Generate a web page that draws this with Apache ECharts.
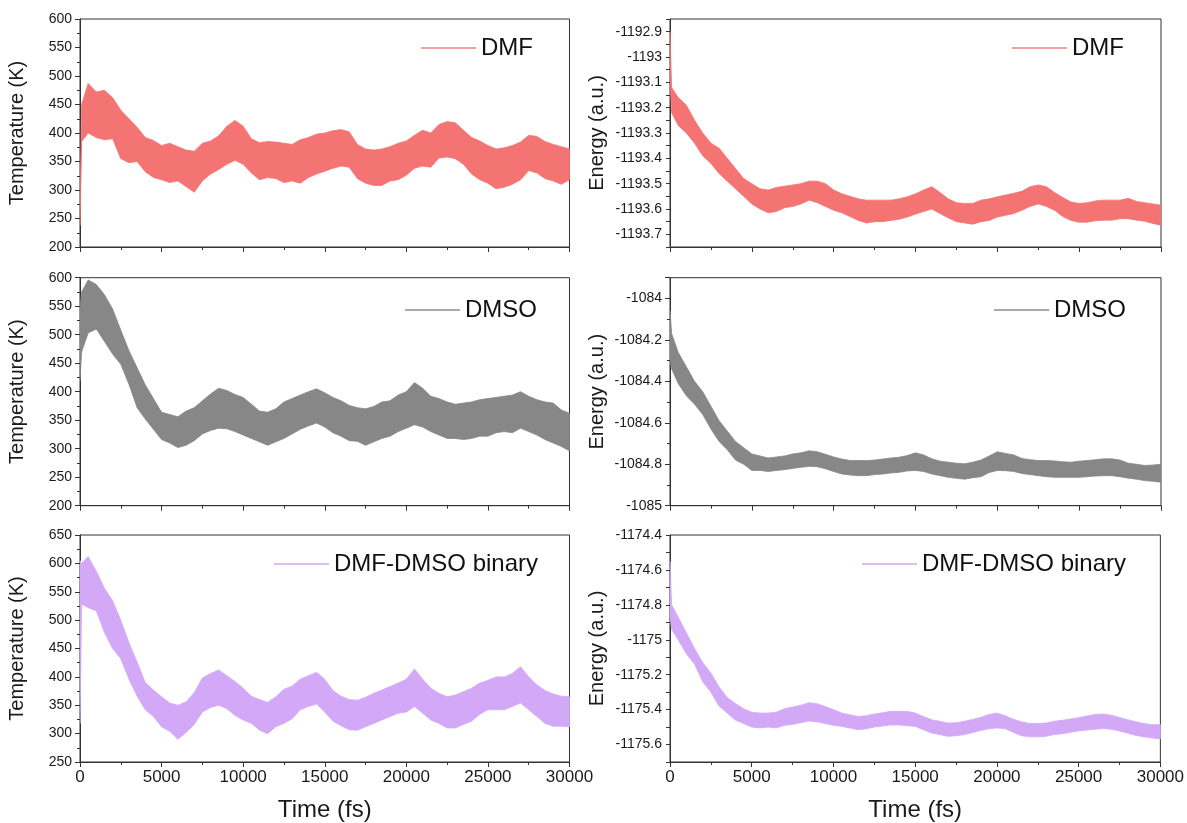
<!DOCTYPE html>
<html><head><meta charset="utf-8">
<script src="https://cdn.jsdelivr.net/npm/echarts@6/dist/echarts.min.js"></script>
<style>html,body{margin:0;padding:0;background:#fff}#c{width:1187px;height:823px}</style>
</head><body><div id="c"></div>
<script>
// time (fs)
const time = [0,100,500,1000,1500,2000,2500,3000,3500,4000,4500,5000,5500,6000,6500,7000,7500,8000,8500,9000,9500,10000,10500,11000,11500,12000,12500,13000,13500,14000,14500,15000,15500,16000,16500,17000,17500,18000,18500,19000,19500,20000,20500,21000,21500,22000,22500,23000,23500,24000,24500,25000,25500,26000,26500,27000,27500,28000,28500,29000,29500,30000];

// DMF temperature envelope (K)
const dmfTempHi = [250,450,487,472,475,462,440,425,410,392,387,378,382,376,370,368,382,386,395,412,422,412,390,383,385,384,382,380,388,392,398,400,404,406,402,380,372,370,372,376,382,386,396,405,400,415,420,418,405,392,386,378,372,374,378,384,396,394,385,380,376,372];
const dmfTempLo = [238,385,400,392,388,390,355,348,350,332,322,318,313,316,306,296,316,328,336,345,352,345,330,318,322,320,313,316,312,322,328,333,338,342,340,320,312,308,308,316,318,326,338,342,340,356,358,355,345,328,318,312,302,305,310,318,334,330,320,316,310,318];
// DMF energy envelope (a.u.)
const dmfEnHi = [-1192.90,-1193.12,-1193.16,-1193.19,-1193.25,-1193.30,-1193.34,-1193.36,-1193.40,-1193.44,-1193.48,-1193.50,-1193.52,-1193.525,-1193.515,-1193.51,-1193.505,-1193.50,-1193.49,-1193.49,-1193.50,-1193.525,-1193.54,-1193.55,-1193.56,-1193.565,-1193.565,-1193.565,-1193.565,-1193.56,-1193.552,-1193.54,-1193.525,-1193.512,-1193.535,-1193.56,-1193.575,-1193.578,-1193.578,-1193.565,-1193.56,-1193.552,-1193.545,-1193.538,-1193.53,-1193.512,-1193.505,-1193.512,-1193.535,-1193.555,-1193.572,-1193.578,-1193.575,-1193.568,-1193.565,-1193.565,-1193.565,-1193.558,-1193.57,-1193.575,-1193.58,-1193.585];
const dmfEnLo = [-1193.10,-1193.22,-1193.27,-1193.30,-1193.34,-1193.39,-1193.42,-1193.46,-1193.49,-1193.52,-1193.55,-1193.58,-1193.60,-1193.615,-1193.61,-1193.595,-1193.59,-1193.58,-1193.565,-1193.575,-1193.59,-1193.605,-1193.615,-1193.63,-1193.645,-1193.655,-1193.65,-1193.65,-1193.645,-1193.64,-1193.632,-1193.62,-1193.61,-1193.60,-1193.618,-1193.635,-1193.65,-1193.655,-1193.66,-1193.65,-1193.645,-1193.632,-1193.625,-1193.618,-1193.605,-1193.59,-1193.58,-1193.59,-1193.605,-1193.63,-1193.645,-1193.652,-1193.652,-1193.646,-1193.644,-1193.644,-1193.638,-1193.638,-1193.644,-1193.648,-1193.657,-1193.664];

// DMSO temperature envelope (K)
const dmsoTempHi = [545,575,596,588,570,545,508,472,442,412,388,364,360,356,366,372,384,396,406,402,395,390,378,366,364,370,382,388,394,400,405,398,390,384,376,372,370,374,382,384,394,400,416,406,392,388,382,378,380,382,386,388,390,392,394,400,392,386,382,380,368,362];
const dmsoTempLo = [420,470,503,510,488,466,448,413,372,352,334,316,310,302,306,314,326,332,336,335,330,324,318,312,306,312,318,326,334,340,345,338,328,322,314,313,306,312,318,322,330,336,342,338,330,324,318,318,316,318,322,322,328,330,328,336,330,324,316,310,304,296];
// DMSO energy envelope (a.u.)
const dmsoEnHi = [-1084.06,-1084.17,-1084.26,-1084.33,-1084.40,-1084.45,-1084.52,-1084.59,-1084.64,-1084.69,-1084.72,-1084.75,-1084.76,-1084.77,-1084.765,-1084.76,-1084.75,-1084.745,-1084.735,-1084.74,-1084.752,-1084.765,-1084.775,-1084.782,-1084.782,-1084.782,-1084.78,-1084.775,-1084.77,-1084.766,-1084.758,-1084.745,-1084.755,-1084.774,-1084.785,-1084.79,-1084.795,-1084.798,-1084.79,-1084.78,-1084.76,-1084.74,-1084.748,-1084.755,-1084.772,-1084.778,-1084.782,-1084.782,-1084.784,-1084.788,-1084.79,-1084.785,-1084.782,-1084.778,-1084.774,-1084.774,-1084.78,-1084.795,-1084.8,-1084.806,-1084.804,-1084.80];
const dmsoEnLo = [-1084.30,-1084.34,-1084.41,-1084.47,-1084.51,-1084.56,-1084.63,-1084.69,-1084.73,-1084.78,-1084.80,-1084.83,-1084.83,-1084.835,-1084.83,-1084.826,-1084.82,-1084.815,-1084.81,-1084.812,-1084.822,-1084.835,-1084.847,-1084.852,-1084.855,-1084.855,-1084.85,-1084.847,-1084.842,-1084.839,-1084.832,-1084.83,-1084.835,-1084.847,-1084.855,-1084.863,-1084.868,-1084.872,-1084.865,-1084.86,-1084.84,-1084.83,-1084.831,-1084.835,-1084.845,-1084.85,-1084.855,-1084.86,-1084.863,-1084.863,-1084.863,-1084.863,-1084.86,-1084.857,-1084.855,-1084.855,-1084.86,-1084.867,-1084.872,-1084.879,-1084.882,-1084.887];

// DMF-DMSO binary temperature envelope (K)
const binTempHi = [605,600,612,586,556,534,500,460,426,390,377,365,354,350,356,372,398,406,412,402,392,380,366,360,355,365,378,384,396,402,408,396,376,366,360,359,364,371,377,383,389,396,414,396,380,371,365,368,374,380,389,394,400,400,406,418,400,386,376,370,366,365];
const binTempLo = [318,528,522,516,478,450,432,396,366,342,330,312,304,290,302,316,338,346,350,344,332,324,318,306,300,312,318,326,342,348,352,338,322,314,307,306,312,318,324,330,336,338,348,336,324,318,310,310,316,322,334,342,342,342,348,354,342,330,318,313,313,312];
// DMF-DMSO binary energy envelope (a.u.)
const binEnHi = [-1174.55,-1174.80,-1174.87,-1174.96,-1175.05,-1175.13,-1175.19,-1175.27,-1175.33,-1175.365,-1175.395,-1175.415,-1175.42,-1175.42,-1175.415,-1175.395,-1175.385,-1175.375,-1175.36,-1175.366,-1175.382,-1175.40,-1175.42,-1175.43,-1175.439,-1175.435,-1175.425,-1175.418,-1175.41,-1175.41,-1175.41,-1175.42,-1175.439,-1175.458,-1175.467,-1175.477,-1175.475,-1175.467,-1175.456,-1175.445,-1175.428,-1175.42,-1175.435,-1175.455,-1175.47,-1175.48,-1175.48,-1175.477,-1175.467,-1175.461,-1175.454,-1175.446,-1175.437,-1175.428,-1175.425,-1175.432,-1175.445,-1175.458,-1175.47,-1175.48,-1175.486,-1175.486];
const binEnLo = [-1174.87,-1174.94,-1175.00,-1175.08,-1175.14,-1175.24,-1175.30,-1175.38,-1175.42,-1175.46,-1175.48,-1175.50,-1175.505,-1175.50,-1175.505,-1175.49,-1175.485,-1175.475,-1175.465,-1175.47,-1175.48,-1175.49,-1175.496,-1175.505,-1175.515,-1175.51,-1175.50,-1175.494,-1175.488,-1175.488,-1175.492,-1175.496,-1175.515,-1175.534,-1175.543,-1175.553,-1175.55,-1175.543,-1175.532,-1175.52,-1175.51,-1175.505,-1175.51,-1175.53,-1175.55,-1175.556,-1175.556,-1175.553,-1175.543,-1175.538,-1175.53,-1175.522,-1175.517,-1175.512,-1175.508,-1175.513,-1175.522,-1175.535,-1175.548,-1175.556,-1175.562,-1175.568];

const names = ['DMF','DMSO','DMF-DMSO binary'];
const colors = ['#f47373','#878787','#d3a9f7'];
const legendColors = ['#f6a2a2','#a9a9a9','#ddbdf8'];

const FONT = '"Liberation Sans", Arial, sans-serif';
const AX = '#333';
const TXT = '#1a1a1a';

const rowsTop = [19, 277.7, 535];
const rowH = 228;
const colLeft = [80, 670];
const colW = [489.5, 491];

const panels = [
  {row:0,col:0,hi:dmfTempHi,lo:dmfTempLo,s:0,y:{min:200,max:600,interval:50,minor:true}},
  {row:0,col:1,hi:dmfEnHi,lo:dmfEnLo,s:0,y:{min:-1193.75,max:-1192.85,interval:0.05,minor:false,every:10}},
  {row:1,col:0,hi:dmsoTempHi,lo:dmsoTempLo,s:1,y:{min:200,max:600,interval:50,minor:true}},
  {row:1,col:1,hi:dmsoEnHi,lo:dmsoEnLo,s:1,y:{min:-1085,max:-1083.9,interval:0.2,minor:true,hideMax:true}},
  {row:2,col:0,hi:binTempHi,lo:binTempLo,s:2,y:{min:250,max:650,interval:50,minor:true}},
  {row:2,col:1,hi:binEnHi,lo:binEnLo,s:2,y:{min:-1175.7,max:-1174.4,interval:0.1,minor:false,every:5}}
];

const legendPos = [[421,36],[1012,36],[405,298],[994,298],[274,552],[862,552]];

const grid=[], xAxis=[], yAxis=[], series=[], legend=[];
panels.forEach((p,i)=>{
  grid.push({left:colLeft[p.col], top:rowsTop[p.row], width:colW[p.col], height:rowH,
    show:true, borderColor:AX, borderWidth:1, backgroundColor:'transparent'});
  const bottom = p.row===2;
  xAxis.push({type:'value', gridIndex:i, min:0, max:30000, interval:5000,
    axisLine:{show:true,onZero:false,lineStyle:{color:AX,width:1}},
    axisTick:{show:true,inside:false,length:5,lineStyle:{color:AX}},
    minorTick:{show:true,splitNumber:2,length:3,lineStyle:{color:AX}},
    splitLine:{show:false},
    axisLabel:{show:bottom,margin:7,color:TXT,fontSize:17,fontFamily:FONT,formatter:v=>String(v)},
    name: bottom?'Time (fs)':'', nameLocation:'middle', nameGap:36,
    nameTextStyle:{fontSize:24,color:TXT,fontFamily:FONT}});
  const yc = p.y;
  const lab = {margin:8,color:TXT,fontSize:14,fontFamily:FONT,showMaxLabel: yc.hideMax?false:null,
    formatter:function(v){
      if (yc.every){ const k=v*yc.every; if (Math.abs(Math.round(k)-k)>1e-6) return ''; }
      return String(Math.round(v*10)/10);
    }};
  yAxis.push({type:'value', gridIndex:i, min:yc.min, max:yc.max, interval:yc.interval,
    axisLine:{show:true,onZero:false,lineStyle:{color:AX,width:1}},
    axisTick:{show:true,inside:false,length:yc.minor?5:4,lineStyle:{color:AX}},
    minorTick:{show:yc.minor,splitNumber:2,length:3,lineStyle:{color:AX}},
    splitLine:{show:false},
    axisLabel:lab,
    name: p.col===0?'Temperature (K)':'Energy (a.u.)', nameLocation:'middle',
    nameGap: p.col===0?53:63,
    nameTextStyle:{fontSize:20,color:TXT,fontFamily:FONT}});
  const c = colors[p.s];
  const hi = p.hi, lo = p.lo;
  series.push({type:'custom', name:names[p.s], coordinateSystem:'cartesian2d',
    xAxisIndex:i, yAxisIndex:i, silent:true, animation:false, clip:true,
    itemStyle:{color:c},
    data:[[time[0], lo[0]]],
    renderItem:function(params, api){
      const pts = [];
      for (let k=0;k<time.length;k++) pts.push(api.coord([time[k], hi[k]]));
      for (let k=time.length-1;k>=0;k--) pts.push(api.coord([time[k], lo[k]]));
      return {type:'polygon', shape:{points:pts}, style:{fill:c, stroke:c, lineWidth:0.8}};
    }});
  legend.push({left:legendPos[i][0], top:legendPos[i][1], padding:0, itemWidth:55, itemHeight:2,
    selectedMode:false, textStyle:{fontSize:24,color:'#111',fontFamily:FONT},
    data:[{name:names[p.s], icon:'rect', itemStyle:{color:legendColors[p.s]}}]});
});

const chart = echarts.init(document.getElementById('c'), null, {renderer:'canvas'});
chart.setOption({backgroundColor:'#fff', animation:false, grid, xAxis, yAxis, series, legend});
</script>
</body></html>
